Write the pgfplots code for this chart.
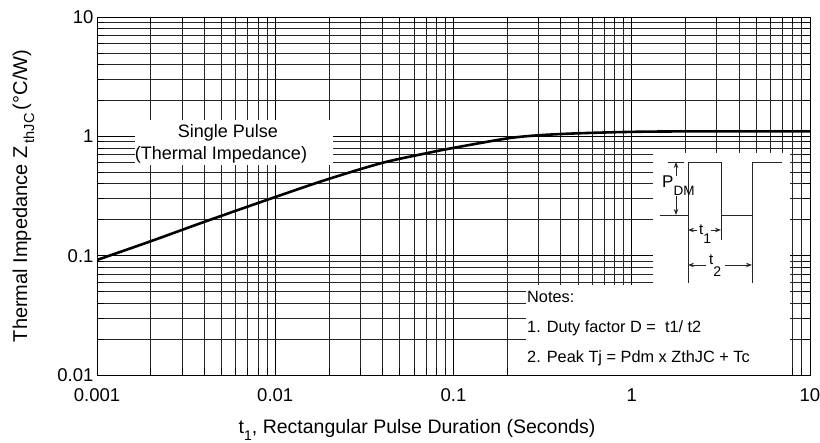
\documentclass[border=0pt]{standalone}
\usepackage{fontspec}
\setmainfont{Liberation Sans}
\usepackage{pgfplots}
\usepackage{pgfplotstable}
\pgfplotsset{compat=1.18}
\usetikzlibrary{arrows.meta}
\pgfdeclarelayer{boxes}
\pgfplotsset{
  layers/boxed/.define layer set={
    axis background,axis grid,boxes,axis ticks,axis lines,axis tick labels,pre main,main,axis descriptions,axis foreground
  }{},
}

% single pulse thermal impedance
\pgfplotstableread{
t z
0.001 0.092
0.002 0.132
0.004 0.192
0.01 0.31
0.02 0.44
0.04 0.60
0.07 0.72
0.1 0.80
0.2 0.96
0.3 1.02
0.5 1.06
1 1.09
2 1.10
5 1.10
10 1.10
}\zth

\begin{document}
\begin{tikzpicture}
\begin{loglogaxis}[
  set layers=boxed,
  at={(97pt,68pt)}, anchor=south west,
  scale only axis, width=713pt, height=358pt,
  xmin=0.001, xmax=10, ymin=0.01, ymax=10,
  xtick={0.001,0.01,0.1,1,10},
  ytick={0.01,0.1,1,10},
  xticklabels={0.001,0.01,0.1,1,10},
  yticklabels={0.01,0.1,1,10},
  grid=both,
  major grid style={black, line width=0.8pt},
  minor grid style={black!85, line width=0.7pt},
  axis line style={black, line width=0.9pt},
  tick style={black, line width=0.7pt},
  major tick length=7pt, minor tick length=7pt,
  ticklabel style={font=\fontsize{18.5}{22}\selectfont},
  xticklabel style={yshift=-10.5pt},
  xlabel={t\raisebox{-0.35em}{\fontsize{14}{16}\selectfont 1}, Rectangular Pulse Duration (Seconds)},
  xlabel style={font=\fontsize{19.5}{23}\selectfont, at={(axis description cs:0.449,-0.153)}, anchor=center},
  ylabel={Thermal Impedance Z\,\raisebox{-0.35em}{\fontsize{14.5}{16}\selectfont thJC}\,(°C/W)},
  ylabel style={font=\fontsize{20}{24}\selectfont, at={(axis description cs:-0.103,0.50)}, anchor=center},
]
\fill[white, on layer=boxes] (rel axis cs:0.0533,0.587) rectangle (rel axis cs:0.331,0.712);
\fill[white, on layer=boxes] (rel axis cs:0.780,0.251) rectangle (rel axis cs:0.972,0.620);
\fill[white, on layer=boxes] (rel axis cs:0.602,0) rectangle (rel axis cs:0.972,0.251);
\addplot[black, line width=2.6pt, smooth] table[x=t, y=z] {\zth};
\end{loglogaxis}

\begin{scope}[x=1pt, y=-1pt, yshift=443pt]
  \begin{scope}[font=\fontsize{18}{21}\selectfont]
    \node[anchor=base, inner sep=0] at (228,138) {Single Pulse};
    \node[anchor=base, inner sep=0] at (221,160) {(Thermal Impedance)};
  \end{scope}
  \begin{scope}[font=\fontsize{16.3}{19}\selectfont]
    \node[anchor=base west, inner sep=0] at (527,303) {Notes:};
    \node[anchor=base west, inner sep=0] at (527,333) {1. Duty factor D =\ \ t1/ t2};
    \node[anchor=base west, inner sep=0] at (527,363) {2. Peak Tj = Pdm x ZthJC + Tc};
  \end{scope}
  % pulse sketch
  \begin{scope}[line width=0.9pt, black!85, >={Stealth[length=6pt,width=4.5pt]}]
    \draw (660,215) -- (688,215) -- (688,162) -- (721,162) -- (721,215)
          -- (752,215) -- (752,162) -- (782,162);
    \draw (668,162) -- (684,162);
    \draw[->] (676,176) -- (676,162);
    \draw[->] (676,196) -- (676,215);
    \draw (688,215) -- (688,283);
    \draw (721,215) -- (721,240);
    \draw (752,215) -- (752,283);
    \draw[->] (697,230) -- (688,230);
    \draw[->] (711,230) -- (721,230);
    \draw[->] (706,265) -- (688,265);
    \draw[->] (725,265) -- (752,265);
  \end{scope}
  \node[anchor=base west, inner sep=0, font=\fontsize{17}{20}\selectfont] at (662,188)
    {P\raisebox{-0.45em}{\fontsize{13.5}{16}\selectfont DM}};
  \node[anchor=base west, inner sep=0, font=\fontsize{15}{18}\selectfont] at (699,235)
    {t\raisebox{-0.6em}{\fontsize{14}{17}\selectfont 1}};
  \node[anchor=base west, inner sep=0, font=\fontsize{15}{18}\selectfont] at (709,265)
    {t\raisebox{-0.75em}{\fontsize{14}{17}\selectfont 2}};
\end{scope}
\pgfresetboundingbox
\useasboundingbox (0,0) rectangle (820pt,443pt);
\end{tikzpicture}
\end{document}
